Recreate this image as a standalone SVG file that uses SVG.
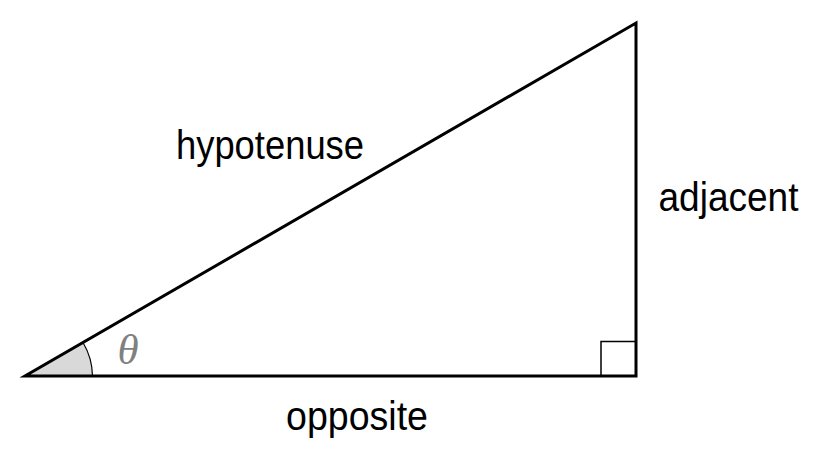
<svg xmlns="http://www.w3.org/2000/svg" width="825" height="459" viewBox="0 0 825 459">
<style>
.lbl{font-family:"Liberation Sans","DejaVu Sans",sans-serif;font-size:40px;fill:#000;text-anchor:middle}
.th{font-family:"Liberation Serif","DejaVu Serif",serif;font-style:italic;font-size:43px;fill:#808080;text-anchor:middle}
</style>
<rect width="825" height="459" fill="#fff"/>
<g id="angle">
<path d="M25,376 L83,342.5 A67.5,67.5 0 0 1 92.5,376 Z" fill="#d9d9d9" stroke="none"/>
<path d="M83,342.5 A67.5,67.5 0 0 1 92.5,376" fill="none" stroke="#000" stroke-width="1.2"/>
</g>
<g id="right-angle">
<path d="M601,376 L601,341.5 L636,341.5" fill="none" stroke="#000" stroke-width="1.5"/>
</g>
<g id="triangle">
<path d="M25,376 L636,376 L636,23 Z" fill="none" stroke="#000" stroke-width="3" stroke-linejoin="miter"/>
</g>
<g id="labels">
<text class="lbl" x="270" y="159" textLength="188" lengthAdjust="spacingAndGlyphs">hypotenuse</text>
<text class="lbl" x="728.5" y="211" textLength="140" lengthAdjust="spacingAndGlyphs">adjacent</text>
<text class="lbl" x="357" y="430" textLength="142" lengthAdjust="spacingAndGlyphs">opposite</text>
<text class="th" x="128" y="364">θ</text>
</g>
</svg>
